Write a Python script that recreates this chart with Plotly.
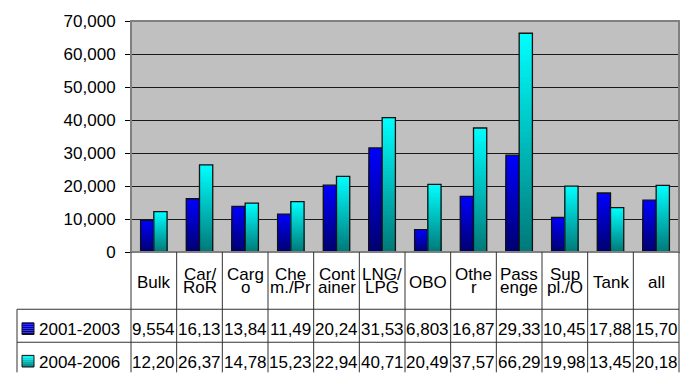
import plotly.graph_objects as go

# Vessel type column headers, as wrapped in the table header cells
header_lines = [["Bulk"], ["Car/", "RoR"], ["Carg", "o"], ["Che", "m./Pr"],
                ["Cont", "ainer"], ["LNG/", "LPG"], ["OBO"], ["Othe", "r"],
                ["Pass", "enge"], ["Sup", "pl./O"], ["Tank"], ["all"]]
categories = ["".join(l) for l in header_lines]

series_names = ["2001-2003", "2004-2006"]
values_2001_2003 = [9554, 16135, 13845, 11495, 20245, 31535, 6803, 16875, 29335, 10455, 17885, 15705]
values_2004_2006 = [12205, 26375, 14785, 15235, 22945, 40715, 20495, 37575, 66295, 19985, 13455, 20185]

y_ticks = [0, 10000, 20000, 30000, 40000, 50000, 60000, 70000]

# Figure geometry (pixels)
W, H = 691, 374
ML, MR, MT, MB = 131, 12, 14, 122
PW, PH = W - ML - MR, H - MT - MB
FONT = "Liberation Sans, Arial, sans-serif"
FS = 17

# gradient end colours (bottom dark -> top bright) for each series
grad = [((0, 0, 110), (0, 0, 255)), ((0, 120, 120), (0, 255, 255))]
N_STEPS = 40


def mix(c0, c1, t):
    return "rgb(%d,%d,%d)" % tuple(round(a + (b - a) * t) for a, b in zip(c0, c1))


def py(p):
    """pixel row -> paper y"""
    return (H - MB - p) / PH


def px(p):
    """pixel column -> paper x"""
    return (p - ML) / PW


fig = go.Figure()
bar_w = 0.29
for s, vals in enumerate([values_2001_2003, values_2004_2006]):
    off = -bar_w if s == 0 else 0.0
    c_lo, c_hi = grad[s]
    # gradient: overlapping bars, tallest first, each shorter one painted darker
    for k in range(N_STEPS - 1, -1, -1):
        frac = (k + 1) / N_STEPS
        fig.add_trace(go.Bar(
            x=categories, y=[v * frac for v in vals],
            width=bar_w, offset=off,
            marker=dict(color=mix(c_lo, c_hi, (k + 0.5) / N_STEPS), line=dict(width=0)),
            hoverinfo="skip", showlegend=False))
    # outline
    fig.add_trace(go.Bar(
        x=categories, y=vals, width=bar_w, offset=off, name=series_names[s],
        marker=dict(color="rgba(0,0,0,0)", line=dict(color="#111", width=1.3)),
        showlegend=False))

shapes = []
annotations = []
line_c = "#333"

# plot frame
shapes.append(dict(type="rect", xref="paper", yref="paper", x0=0, x1=1, y0=0, y1=1,
                   line=dict(color="#808080", width=2), layer="above"))

# data table grid
y_top = py(H - MB)
y_row1 = py(311)
y_row2 = py(345)
y_bot = py(H + 2)
n = len(categories)
for i in range(n + 1):
    shapes.append(dict(type="line", xref="paper", yref="paper", x0=i / n, x1=i / n,
                       y0=y_top, y1=y_bot, line=dict(color=line_c, width=1)))
shapes.append(dict(type="line", xref="paper", yref="paper", x0=px(17), x1=px(17),
                   y0=y_row1, y1=y_bot, line=dict(color=line_c, width=1)))
for yy in (y_row1, y_row2):
    shapes.append(dict(type="line", xref="paper", yref="paper", x0=px(17), x1=1,
                       y0=yy, y1=yy, line=dict(color=line_c, width=1)))

# header cells
for cat, lines in zip(categories, header_lines):
    if len(lines) == 1:
        annotations.append(dict(x=cat, xref="x", y=py(283), yref="paper", text=lines[0],
                                showarrow=False, xanchor="center", yanchor="middle"))
    else:
        for t, yp in zip(lines, (275, 288.5)):
            annotations.append(dict(x=cat, xref="x", y=py(yp), yref="paper", text=t,
                                    showarrow=False, xanchor="center", yanchor="middle"))

# series rows
row_text = [332, 366]
row_keys = [331, 364.5]
for s, vals in enumerate([values_2001_2003, values_2004_2006]):
    yc = row_text[s]
    kc = row_keys[s]
    c_lo, c_hi = grad[s]
    # legend key
    k0, k1 = kc - 6, kc + 6
    steps = 6
    for j in range(steps):
        a = k1 - (k1 - k0) * j / steps
        b = k1 - (k1 - k0) * (j + 1) / steps
        shapes.append(dict(type="rect", xref="paper", yref="paper", x0=px(22), x1=px(34),
                           y0=py(a), y1=py(b), line=dict(width=0),
                           fillcolor=mix(c_lo, c_hi, (j + 0.5) / steps)))
    shapes.append(dict(type="rect", xref="paper", yref="paper", x0=px(22), x1=px(34),
                       y0=py(k1), y1=py(k0), line=dict(color="#111", width=1)))
    annotations.append(dict(x=px(37), xref="paper", y=py(yc), yref="paper",
                            text=series_names[s], showarrow=False,
                            xanchor="left", yanchor="middle"))
    for cat, v in zip(categories, vals):
        annotations.append(dict(x=cat, xref="x", y=py(yc), yref="paper",
                                text=f"{v:,}"[:5], showarrow=False,
                                xanchor="center", yanchor="middle"))

fig.update_layout(
    width=W, height=H,
    margin=dict(l=ML, r=MR, t=MT, b=MB, pad=0),
    paper_bgcolor="white", plot_bgcolor="#C0C0C0",
    barmode="overlay",
    font=dict(family=FONT, size=FS, color="black"),
    shapes=shapes, annotations=annotations,
    xaxis=dict(range=[-0.5, n - 0.5], showticklabels=False, ticks="",
               showgrid=False, zeroline=False, showline=True, linecolor="black",
               linewidth=1, fixedrange=True),
    yaxis=dict(range=[0, 70000], tickvals=y_ticks, tickformat=",d",
               ticks="outside", ticklen=5, tickcolor="black", ticklabelstandoff=6,
               showgrid=True, gridcolor="#1a1a1a", gridwidth=1,
               zeroline=False, showline=False, fixedrange=True,
               tickfont=dict(size=FS)),
    showlegend=False,
)

fig.write_html("out.html")
